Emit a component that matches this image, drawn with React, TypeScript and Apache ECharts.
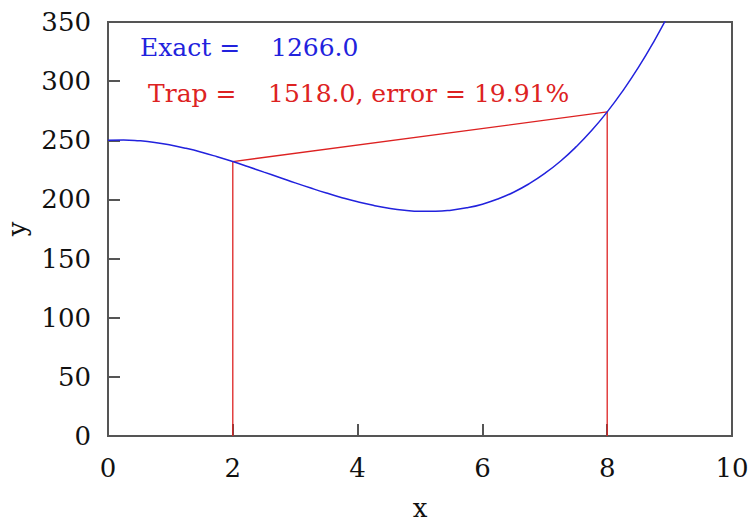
import React, { useEffect, useRef } from "react";
import * as echarts from "echarts";

// Curve samples (x, y)
const curveX = [0, 0.25, 0.5, 0.75, 1, 1.25, 1.5, 1.75, 2, 2.25, 2.5, 2.75, 3, 3.25, 3.5, 3.75, 4, 4.25, 4.5, 4.75, 5, 5.25, 5.5, 5.75, 6, 6.25, 6.5, 6.75, 7, 7.25, 7.5, 7.75, 8, 8.25, 8.5, 8.75, 9];
const curveY = [250, 250.3, 249.6, 248.2, 246, 243.2, 239.9, 236.1, 232, 227.6, 223.1, 218.6, 214, 209.6, 205.4, 201.5, 198, 195, 192.6, 190.9, 190, 190, 190.9, 192.9, 196, 200.4, 206.1, 213.3, 222, 232.3, 244.4, 258.2, 274, 291.8, 311.6, 333.7, 358];

// Trapezoid outline
const trapX = [2, 2, 8, 8];
const trapY = [0, 232, 274, 0];

const xTicks = [0, 2, 4, 6, 8, 10];
const yTicks = [0, 50, 100, 150, 200, 250, 300, 350];

const exactLabel = "Exact =";
const exactValue = "1266.0";
const trapLabel = "Trap =";
const trapValue = "1518.0, error = 19.91%";

const FONT = "DejaVu Serif";
const AXIS = "#555555";
const BLUE = "#2222dd";
const RED = "#dd2222";

export default function App() {
  const ref = useRef<HTMLDivElement>(null);
  useEffect(() => {
    if (!ref.current) return;
    const chart = echarts.init(ref.current, undefined, { renderer: "svg" });
    chart.setOption({
      animation: false,
      backgroundColor: "#ffffff",
      grid: {
        left: 108,
        right: 21,
        top: 22,
        bottom: 86,
        containLabel: false,
        outerBoundsMode: "none",
        show: true,
        borderColor: AXIS,
        borderWidth: 2,
      },
      xAxis: {
        type: "value",
        min: xTicks[0],
        max: xTicks[xTicks.length - 1],
        interval: 2,
        name: "x",
        nameLocation: "middle",
        nameGap: 62,
        nameTextStyle: { fontFamily: FONT, fontSize: 26, lineHeight: 20, color: "#111" },
        axisLine: { show: true, lineStyle: { color: AXIS, width: 2 } },
        axisTick: { show: true, inside: true, length: 12, lineStyle: { color: AXIS, width: 2 } },
        axisLabel: { fontFamily: FONT, fontSize: 26, color: "#111", margin: 19 },
        splitLine: { show: false },
      },
      yAxis: {
        type: "value",
        min: yTicks[0],
        max: yTicks[yTicks.length - 1],
        interval: 50,
        name: "y",
        nameLocation: "middle",
        nameGap: 76,
        nameRotate: 90,
        nameTextStyle: { fontFamily: FONT, fontSize: 26, color: "#111" },
        axisLine: { show: true, lineStyle: { color: AXIS, width: 2 } },
        axisTick: { show: true, inside: true, length: 12, lineStyle: { color: AXIS, width: 2 } },
        axisLabel: { fontFamily: FONT, fontSize: 26, color: "#111", margin: 17 },
        splitLine: { show: false },
      },
      series: [
        {
          type: "line",
          data: trapX.map((x, i) => [x, trapY[i]]),
          showSymbol: false,
          lineStyle: { color: RED, width: 1.3 },
          z: 2,
        },
        {
          type: "line",
          data: curveX.map((x, i) => [x, curveY[i]]),
          showSymbol: false,
          smooth: true,
          clip: true,
          lineStyle: { color: BLUE, width: 1.5 },
          z: 3,
        },
      ],
      graphic: [
        { type: "text", x: 140, y: 47, style: { text: exactLabel, fill: BLUE, font: `25px "${FONT}"`, verticalAlign: "middle" } },
        { type: "text", x: 271, y: 47, style: { text: exactValue, fill: BLUE, font: `25px "${FONT}"`, verticalAlign: "middle" } },
        { type: "text", x: 148, y: 93, style: { text: trapLabel, fill: RED, font: `25px "${FONT}"`, verticalAlign: "middle" } },
        { type: "text", x: 268, y: 93, style: { text: trapValue, fill: RED, font: `25px "${FONT}"`, verticalAlign: "middle" } },
      ],
    });
    return () => chart.dispose();
  }, []);
  return <div ref={ref} style={{ width: 753, height: 522, position: "fixed", left: 0, top: 0 }} />;
}
